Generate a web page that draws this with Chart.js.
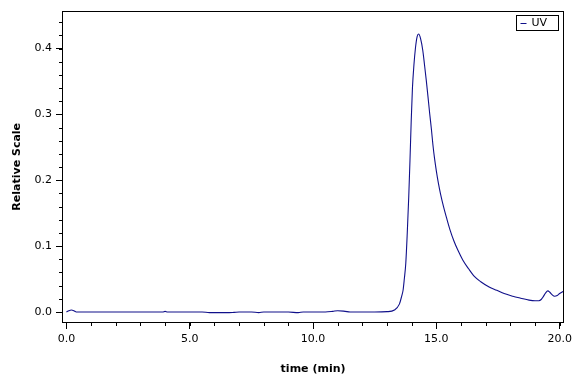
<!DOCTYPE html>
<html>
<head>
<meta charset="utf-8">
<script src="https://cdn.jsdelivr.net/npm/chart.js@4/dist/chart.umd.min.js"></script>
<style>
  html, body { margin: 0; padding: 0; background: #fff; }
  canvas { display: block; }
</style>
</head>
<body>
<canvas id="myChart" width="576" height="384"></canvas>
<script>
// ============= data =============
const times = [0.0, 0.1, 0.2, 0.3, 0.4, 1.0, 2.0, 3.0, 3.9, 4.0, 4.1, 5.0, 5.5, 5.8, 6.5, 6.8, 7.0, 7.5, 7.8, 8.0,
  9.0, 9.4, 9.6, 10.0, 10.5, 10.8, 11.0, 11.3, 11.5, 12.0, 12.5, 13.0, 13.3, 13.5, 13.6, 13.65, 13.7, 13.76, 13.82, 13.88,
  13.93, 13.98, 14.03, 14.09, 14.15, 14.22, 14.28, 14.36, 14.45, 14.52, 14.59, 14.66, 14.73, 14.8, 14.86, 14.93, 15.0, 15.08,
  15.17, 15.29, 15.42, 15.56, 15.72, 15.87, 16.07, 16.3, 16.54, 16.8, 17.14, 17.45, 17.75, 18.1, 18.42, 18.76, 19.0, 19.16,
  19.25, 19.33, 19.43, 19.52, 19.6, 19.7, 19.79, 19.9, 20.0, 20.18];
const uvValues = [0.0, 0.002, 0.003, 0.002, 0.0, 0.0, 0.0, 0.0, 0.0, 0.001, 0.0, 0.0, 0.0, -0.001, -0.001, -0.0005, 0.0, 0.0, -0.001, 0.0,
  0.0, -0.001, 0.0, 0.0, 0.0, 0.001, 0.002, 0.001, 0.0, 0.0, 0.0, 0.0005, 0.003, 0.012, 0.025, 0.033, 0.05, 0.074, 0.12, 0.175,
  0.23, 0.29, 0.34, 0.375, 0.40, 0.418, 0.422, 0.415, 0.397, 0.375, 0.352, 0.327, 0.301, 0.277, 0.254, 0.232, 0.214, 0.196,
  0.179, 0.16, 0.142, 0.124, 0.107, 0.094, 0.079, 0.066, 0.054, 0.046, 0.038, 0.033, 0.028, 0.024, 0.021, 0.018, 0.017, 0.017,
  0.019, 0.023, 0.029, 0.032, 0.03, 0.026, 0.024, 0.025, 0.028, 0.032];
const seriesName = 'UV';
const xTicks = [0, 5, 10, 15, 20];
const yTicks = [0.0, 0.1, 0.2, 0.3, 0.4];
const xMinorStep = 1;
const yMinorStep = 0.02;
// ============= end of data =============

const lineColor = '#10108a';
const font = { family: 'DejaVu Sans', size: 11 };

// frame, minor ticks and boxed legend
const framePlugin = {
  id: 'frame',
  afterDraw(chart) {
    const ctx = chart.ctx;
    const a = chart.chartArea;
    const xs = chart.scales.x, ys = chart.scales.y;
    ctx.save();
    ctx.strokeStyle = '#000';
    ctx.lineWidth = 1;
    ctx.strokeRect(Math.round(a.left) + 0.5, Math.round(a.top) + 0.5,
      Math.round(a.right - a.left) - 1, Math.round(a.bottom - a.top) - 1);

    // minor ticks
    ctx.beginPath();
    for (let v = Math.ceil(ys.min / yMinorStep) * yMinorStep; v <= ys.max; v += yMinorStep) {
      const py = Math.round(ys.getPixelForValue(v)) + 0.5;
      ctx.moveTo(a.left - 3, py);
      ctx.lineTo(a.left, py);
    }
    for (let v = Math.ceil(xs.min / xMinorStep) * xMinorStep; v <= xs.max; v += xMinorStep) {
      const px = Math.round(xs.getPixelForValue(v)) + 0.5;
      ctx.moveTo(px, a.bottom);
      ctx.lineTo(px, a.bottom + 3);
    }
    ctx.stroke();

    // legend box
    const label = chart.data.datasets[0].label;
    ctx.font = font.size + 'px ' + font.family;
    const tw = ctx.measureText(label).width;
    const bw = Math.round(tw + 26), bh = 15;
    const bx = Math.round(a.right - 6 - bw) + 0.5, by = Math.round(a.top + 4) + 0.5;
    ctx.strokeRect(bx, by, bw, bh);
    ctx.strokeStyle = chart.data.datasets[0].borderColor;
    ctx.beginPath();
    ctx.moveTo(bx + 4, by + 8);
    ctx.lineTo(bx + 10, by + 8);
    ctx.stroke();
    ctx.fillStyle = '#000';
    ctx.textBaseline = 'middle';
    ctx.fillText(label, bx + 15, by + bh / 2 + 0.5);
    ctx.restore();
  }
};

var ctx = document.querySelector('#myChart').getContext('2d');
var chart = new Chart(ctx, {
  type: 'line',
  data: {
    datasets: [{
      label: seriesName,
      data: times.map((t, i) => ({ x: t, y: uvValues[i] })),
      borderColor: lineColor,
      borderWidth: 1.1,
      pointRadius: 0,
      fill: false,
      cubicInterpolationMode: 'monotone'
    }]
  },
  options: {
    responsive: false,
    animation: false,
    devicePixelRatio: 1,
    layout: { padding: { left: 0, right: 9, top: 10, bottom: 0 } },
    plugins: {
      legend: { display: false },
      tooltip: { enabled: false }
    },
    scales: {
      x: {
        type: 'linear',
        min: -0.18,
        max: 20.18,
        afterFit: (s) => { s.height = 61; },
        afterBuildTicks: (s) => { s.ticks = xTicks.map(v => ({ value: v })); },
        ticks: {
          includeBounds: false,
          color: '#000',
          font: font,
          padding: 4,
          maxRotation: 0,
          callback: (v) => Number(v).toFixed(1)
        },
        grid: { drawOnChartArea: false, drawTicks: true, tickLength: 6, tickColor: '#000', color: '#000' },
        border: { display: false },
        title: {
          display: true,
          text: 'time (min)',
          color: '#000',
          font: { family: 'DejaVu Sans', size: 11, weight: 'bold' },
          padding: { top: 0, bottom: 8 }
        }
      },
      y: {
        type: 'linear',
        min: -0.0167,
        max: 0.4576,
        afterFit: (s) => { s.width = 62; },
        afterBuildTicks: (s) => { s.ticks = yTicks.map(v => ({ value: v })); },
        ticks: {
          includeBounds: false,
          color: '#000',
          font: font,
          padding: 4,
          callback: (v) => Number(v).toFixed(1)
        },
        grid: { drawOnChartArea: false, drawTicks: true, tickLength: 6, tickColor: '#000', color: '#000' },
        border: { display: false },
        title: {
          display: true,
          text: 'Relative Scale',
          color: '#000',
          font: { family: 'DejaVu Sans', size: 11, weight: 'bold' },
          padding: { top: 11, bottom: 0 }
        }
      }
    }
  },
  plugins: [framePlugin]
});
</script>
</body>
</html>
